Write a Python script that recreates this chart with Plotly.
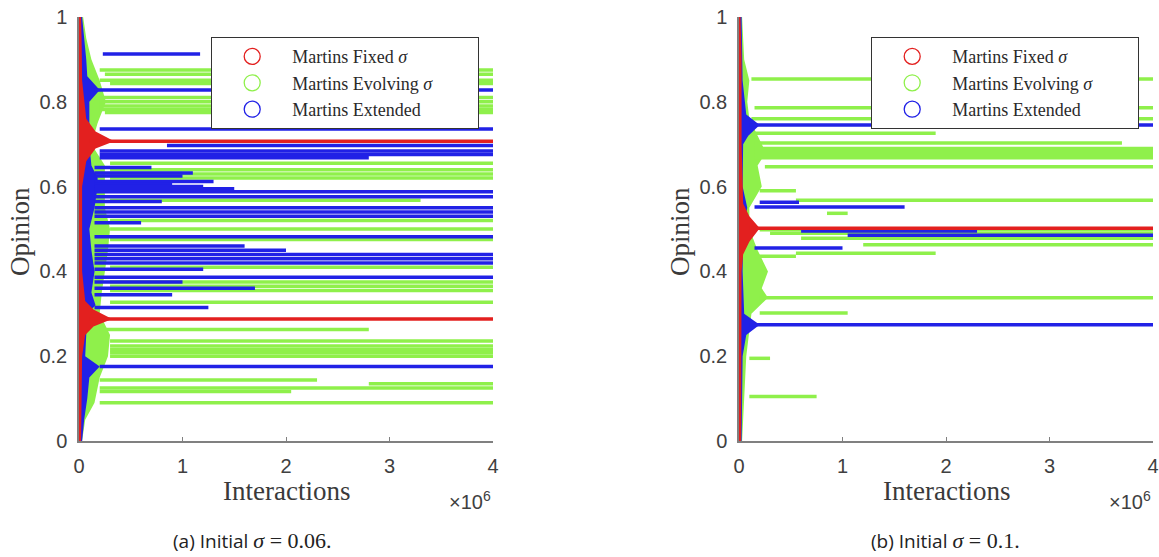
import plotly.graph_objects as go

# ---- data (interactions in units of 1e6) ----
# panel (a): initial sigma = 0.06
# clusters: opinion, start, end
red_a_op = [0.707, 0.288]
red_a_t0 = [0.1, 0.1]
red_a_t1 = [4, 4]

green_a_op = [0.875, 0.865, 0.851, 0.843, 0.81, 0.80, 0.79, 0.782, 0.775,
              0.655, 0.64, 0.63, 0.62, 0.568, 0.52, 0.50, 0.475, 0.41,
              0.375, 0.365, 0.355, 0.327, 0.263, 0.236, 0.224, 0.215,
              0.208, 0.20, 0.144, 0.135, 0.125, 0.117, 0.09]
green_a_t0 = [0.2, 0.25, 0.2, 0.3, 0.2, 0.2, 0.2, 0.2, 0.25,
              0.3, 0.3, 0.3, 0.3, 0.3, 0.3, 0.3, 0.3, 0.3,
              0.3, 0.3, 0.3, 0.3, 0.2, 0.3, 0.3, 0.3,
              0.3, 0.3, 0.2, 2.8, 0.2, 0.2, 0.2]
green_a_t1 = [4, 4, 4, 4, 4, 4, 4, 4, 4,
              4, 4, 4, 4, 3.3, 4, 4, 4, 4,
              4, 4, 4, 4, 2.8, 4, 4, 4,
              4, 4, 2.3, 4, 4, 2.05, 4]

blue_a_op = [0.913, 0.828, 0.736, 0.697, 0.684, 0.676, 0.668, 0.645, 0.632,
             0.625, 0.612, 0.605, 0.60, 0.595, 0.588, 0.576, 0.565, 0.55,
             0.54, 0.53, 0.515, 0.482, 0.46, 0.45, 0.44, 0.43, 0.42, 0.405,
             0.386, 0.375, 0.36, 0.345, 0.315, 0.176]
blue_a_t0 = [0.23, 0.15, 0.2, 0.85, 0.2, 0.2, 0.2, 0.15, 0.15,
             0.15, 0.15, 0.15, 0.15, 0.15, 0.15, 0.15, 0.15, 0.15,
             0.15, 0.15, 0.15, 0.15, 0.15, 0.15, 0.15, 0.15, 0.15, 0.15,
             0.15, 0.15, 0.15, 0.15, 0.15, 0.2]
blue_a_t1 = [1.17, 4, 4, 4, 4, 4, 2.8, 0.7, 1.1,
             1.0, 1.3, 0.9, 1.2, 1.5, 4, 4, 0.8, 4,
             4, 4, 0.6, 4, 1.6, 2.0, 4, 4, 4, 1.2,
             4, 1.0, 1.7, 0.9, 1.25, 4]

# early-time spread of agents: opinion level -> how far (in x) it reaches
red_a_sp_op = [0, 0.1, 0.2, 0.25, 0.27, 0.288, 0.31, 0.33, 0.4, 0.5, 0.6,
               0.66, 0.69, 0.707, 0.73, 0.76, 0.85, 0.95, 1.0]
red_a_sp_x = [0.02, 0.025, 0.03, 0.06, 0.14, 0.32, 0.14, 0.06, 0.03, 0.03,
              0.03, 0.07, 0.16, 0.34, 0.16, 0.07, 0.03, 0.025, 0.02]
green_a_sp_op = [0, 0.05, 0.09, 0.15, 0.2, 0.25, 0.3, 0.35, 0.4, 0.45, 0.5,
                 0.55, 0.6, 0.65, 0.7, 0.75, 0.8, 0.85, 0.9, 0.95, 1.0]
green_a_sp_x = [0.03, 0.06, 0.15, 0.2, 0.28, 0.3, 0.2, 0.22, 0.25, 0.28,
                0.3, 0.25, 0.25, 0.25, 0.12, 0.18, 0.26, 0.2, 0.12, 0.07, 0.04]
blue_a_sp_op = [0, 0.05, 0.1, 0.15, 0.176, 0.2, 0.3, 0.32, 0.35, 0.4, 0.45,
                0.5, 0.55, 0.6, 0.62, 0.65, 0.7, 0.74, 0.8, 0.828, 0.86,
                0.9, 0.95, 1.0]
blue_a_sp_x = [0.03, 0.05, 0.08, 0.1, 0.2, 0.06, 0.08, 0.16, 0.12, 0.15, 0.12,
               0.1, 0.15, 0.18, 0.18, 0.12, 0.1, 0.1, 0.1, 0.2, 0.08, 0.07,
               0.05, 0.03]

# panel (b): initial sigma = 0.1
red_b_op = [0.502]
red_b_t0 = [0.1]
red_b_t1 = [4]

green_b_op = [0.854, 0.786, 0.76, 0.726, 0.703, 0.69, 0.682, 0.675, 0.668,
              0.647, 0.59, 0.568, 0.537, 0.498, 0.49, 0.478, 0.463, 0.443,
              0.436, 0.338, 0.302, 0.195, 0.105]
green_b_t0 = [0.12, 0.15, 0.12, 0.15, 0.15, 0.15, 0.15, 0.15, 0.15,
              0.25, 0.2, 0.55, 0.85, 0.2, 0.3, 0.6, 1.2, 0.55,
              0.15, 0.2, 0.2, 0.1, 0.1]
green_b_t1 = [4, 4, 4, 1.9, 3.7, 4, 4, 4, 4,
              4, 0.55, 4, 1.05, 4, 4, 4, 4, 1.9,
              0.55, 4, 1.05, 0.3, 0.75]

blue_b_op = [0.745, 0.563, 0.552, 0.495, 0.485, 0.455, 0.274]
blue_b_t0 = [0.1, 0.2, 0.15, 0.6, 1.05, 0.15, 0.1]
blue_b_t1 = [4, 0.58, 1.6, 2.3, 4, 1.0, 4]

red_b_sp_op = [0, 0.2, 0.4, 0.44, 0.47, 0.502, 0.53, 0.56, 0.7, 0.9, 1.0]
red_b_sp_x = [0.02, 0.025, 0.025, 0.04, 0.1, 0.2, 0.1, 0.04, 0.025, 0.025, 0.015]
green_b_sp_op = [0, 0.1, 0.2, 0.3, 0.338, 0.36, 0.4, 0.45, 0.5, 0.55, 0.6,
                 0.65, 0.68, 0.72, 0.76, 0.8, 0.85, 0.9, 1.0]
green_b_sp_x = [0.03, 0.05, 0.07, 0.12, 0.28, 0.22, 0.28, 0.18, 0.1, 0.1, 0.22,
                0.18, 0.26, 0.18, 0.1, 0.08, 0.1, 0.05, 0.03]
blue_b_sp_op = [0, 0.2, 0.25, 0.274, 0.3, 0.4, 0.5, 0.55, 0.6, 0.7, 0.72,
                0.745, 0.77, 0.85, 1.0]
blue_b_sp_x = [0.025, 0.035, 0.07, 0.2, 0.05, 0.035, 0.04, 0.08, 0.035, 0.04,
               0.09, 0.2, 0.07, 0.035, 0.025]

RED = "#e3201f"
GREEN = "#8ff04b"
BLUE = "#2121e6"

fig = go.Figure()


def lines_xy(op, t0, t1):
    xs, ys = [], []
    for o, a, b in zip(op, t0, t1):
        xs += [a, b, None]
        ys += [o, o, None]
    return xs, ys


def add_model(sp_op, sp_x, op, t0, t1, color, xa, ya, op_sp):
    fig.add_trace(go.Scatter(x=sp_x, y=sp_op, mode="lines", fill="tozerox",
                             line=dict(width=0, color=color), fillcolor=color,
                             opacity=op_sp, showlegend=False, hoverinfo="skip",
                             xaxis=xa, yaxis=ya))
    xs, ys = lines_xy(op, t0, t1)
    fig.add_trace(go.Scatter(x=xs, y=ys, mode="lines",
                             line=dict(width=3.5, color=color),
                             showlegend=False, xaxis=xa, yaxis=ya))


# order: green, blue, red on top
add_model(green_a_sp_op, green_a_sp_x, green_a_op, green_a_t0, green_a_t1, GREEN, "x", "y", 1)
add_model(blue_a_sp_op, blue_a_sp_x, blue_a_op, blue_a_t0, blue_a_t1, BLUE, "x", "y", 0.85)
add_model(red_a_sp_op, red_a_sp_x, red_a_op, red_a_t0, red_a_t1, RED, "x", "y", 0.8)
add_model(green_b_sp_op, green_b_sp_x, green_b_op, green_b_t0, green_b_t1, GREEN, "x2", "y2", 1)
add_model(blue_b_sp_op, blue_b_sp_x, blue_b_op, blue_b_t0, blue_b_t1, BLUE, "x2", "y2", 0.85)
add_model(red_b_sp_op, red_b_sp_x, red_b_op, red_b_t0, red_b_t1, RED, "x2", "y2", 0.8)

names = ["Martins Fixed <i>σ</i>", "Martins Evolving <i>σ</i>" + "\u00a0" * 9,
         "Martins Extended"]
for lg, xa, ya in [("legend", "x", "y"), ("legend2", "x2", "y2")]:
    for nm, c in zip(names, [RED, GREEN, BLUE]):
        fig.add_trace(go.Scatter(x=[None], y=[None], mode="markers", name=nm,
                                 marker=dict(symbol="circle-open", size=16, color=c,
                                             line=dict(width=1.3, color=c)),
                                 legend=lg, xaxis=xa, yaxis=ya))

W, H = 1159, 557
ax_common = dict(range=[0, 4], tickvals=[0, 1, 2, 3, 4], showline=True,
                 linecolor="#808080", linewidth=1.5, ticks="inside", ticklen=4,
                 tickcolor="#808080", showgrid=False, zeroline=False,
                 automargin=False,
                 tickfont=dict(family="Liberation Sans", size=20, color="#404040"),
                 ticklabelstandoff=6)
ay_common = dict(range=[0, 1], tickvals=[0, 0.2, 0.4, 0.6, 0.8, 1],
                 ticktext=["0", "0.2", "0.4", "0.6", "0.8", "1"], showline=True,
                 linecolor="#808080", linewidth=1.5, ticks="", showgrid=False,
                 zeroline=False, automargin=False,
                 tickfont=dict(family="Liberation Sans", size=20, color="#404040"),
                 ticklabelstandoff=6)

ybot, ytop = 1 - 441 / H, 1 - 17 / H
fig.update_layout(
    width=W, height=H, margin=dict(l=0, r=0, t=0, b=0, autoexpand=False),
    plot_bgcolor="white", paper_bgcolor="white",
    xaxis=dict(domain=[79 / W, 493 / W], anchor="y", **ax_common),
    yaxis=dict(domain=[ybot, ytop], anchor="x", **ay_common),
    xaxis2=dict(domain=[739 / W, 1153 / W], anchor="y2", **ax_common),
    yaxis2=dict(domain=[ybot, ytop], anchor="x2", **ay_common),
)

leg_common = dict(bgcolor="white", bordercolor="#333333", borderwidth=1.2,
                  font=dict(family="Liberation Serif", size=18, color="#2a2a2a"),
                  itemwidth=70, tracegroupgap=0, xanchor="left", yanchor="top")
fig.update_layout(
    legend=dict(x=211 / W, y=1 - 37 / H, **leg_common),
    legend2=dict(x=871 / W, y=1 - 37 / H, **leg_common),
)

serif = dict(family="Liberation Serif", size=27, color="#3a3a3a")
ann = []
for xr, px_op in [("x", 20), ("x2", 680)]:
    ann.append(dict(text="Interactions", xref=xr, x=2, yref="paper", y=1 - 491 / H,
                    showarrow=False, font=serif, xanchor="center", yanchor="middle"))
    ann.append(dict(text="×10<sup>6</sup>", xref=xr, x=4, yref="paper", y=1 - 500 / H,
                    showarrow=False, xanchor="right", yanchor="middle",
                    font=dict(family="Liberation Sans", size=20, color="#404040")))
    ann.append(dict(text="Opinion", xref="paper", x=px_op / W, yref="paper", y=1 - 232 / H,
                    textangle=-90, showarrow=False, font=serif,
                    xanchor="center", yanchor="middle"))

cap_font = dict(family="Open Sans", size=19, color="#222222")
span = "<span style='font-family:Liberation Serif;font-size:22px'>"
ann.append(dict(text="(a) Initial " + span + "<i>σ</i> = 0.06.</span>",
                xref="paper", x=252 / W, yref="paper", y=1 - 541 / H, showarrow=False,
                font=cap_font, xanchor="center", yanchor="middle"))
ann.append(dict(text="(b) Initial " + span + "<i>σ</i> = 0.1.</span>",
                xref="paper", x=945 / W, yref="paper", y=1 - 541 / H, showarrow=False,
                font=cap_font, xanchor="center", yanchor="middle"))
fig.update_layout(annotations=ann)

# the page's default body margin would push the figure 8px off
fig.write_html("out.html", config={"displayModeBar": False},
               post_script="document.body.style.margin='0';")
